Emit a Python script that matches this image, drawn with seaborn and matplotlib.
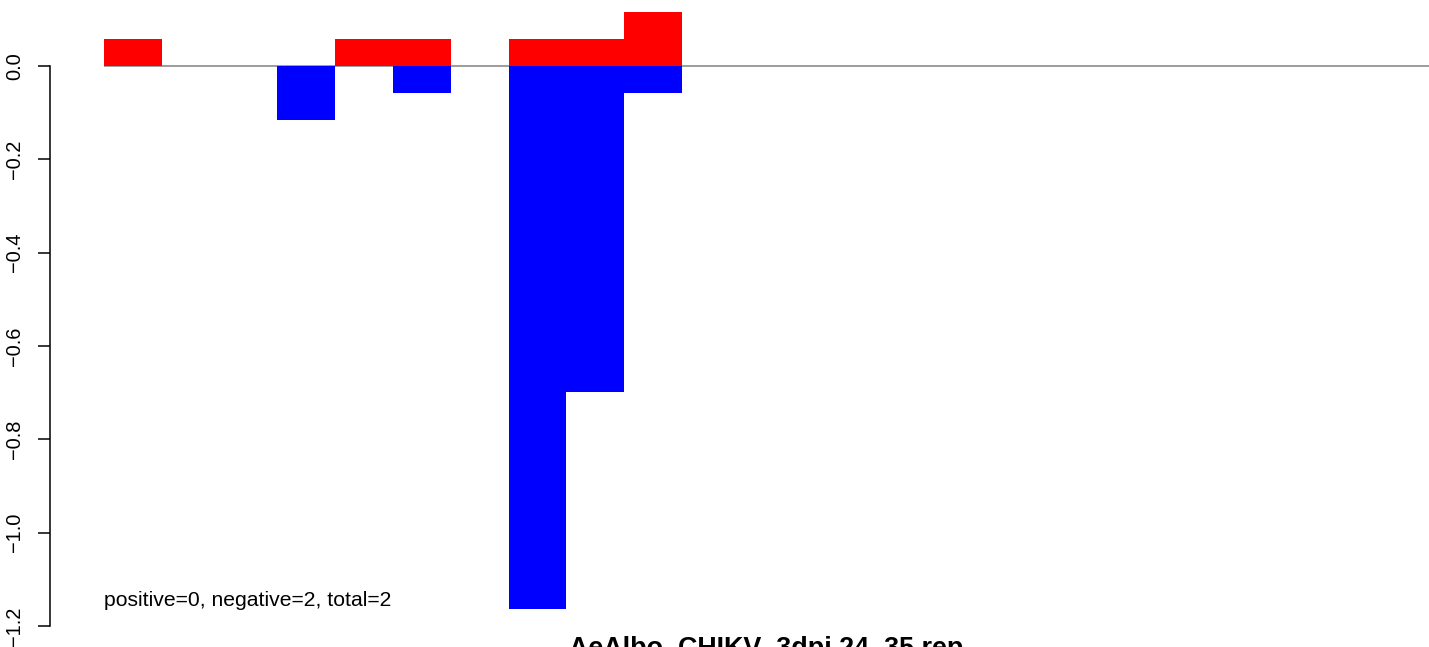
import numpy as np
import pandas as pd
import matplotlib
matplotlib.use("Agg")
import matplotlib.pyplot as plt
import seaborn as sns

# bins (no x labels shown in the figure)
bins = [str(i) for i in range(1, 24)]
# positive-strand (red) and negative-strand (blue) values per bin
red_vals = [0.058, 0, 0, 0, 0.058, 0.058, 0, 0.058, 0.058, 0.116,
            0, 0, 0, 0, 0, 0, 0, 0, 0, 0, 0, 0, 0]
blue_vals = [0, 0, 0, -0.116, 0, -0.058, 0, -1.163, -0.698, -0.058,
             0, 0, 0, 0, 0, 0, 0, 0, 0, 0, 0, 0, 0]
y_ticks = [0.0, -0.2, -0.4, -0.6, -0.8, -1.0, -1.2]
title = "AeAlbo_CHIKV_3dpi 24_35 rep"
note = "positive=0, negative=2, total=2"

df = pd.DataFrame({"bin": bins, "red": red_vals, "blue": blue_vals})

sns.set_style("white")
plt.rcParams["font.family"] = ["Liberation Sans", "DejaVu Sans"]
plt.rcParams["text.color"] = "black"

W, H = 1429, 647
fig = plt.figure(figsize=(W / 100, H / 100), dpi=100)
ax = fig.add_axes([104 / W, 0, (W - 104) / W, 1])

ax.axhline(0, color="#8c8c8c", lw=1.2, zorder=0)
sns.barplot(data=df, x="bin", y="red", color="red", width=1, saturation=1,
            linewidth=0, ax=ax, zorder=2)
sns.barplot(data=df, x="bin", y="blue", color="blue", width=1, saturation=1,
            linewidth=0, ax=ax, zorder=2)

ax.set_xlim(-0.5, -0.5 + (W - 104) / 57.8)
ax.set_ylim(-(H - 66) / 466.7, 66 / 466.7)

for s in ["top", "right", "bottom"]:
    ax.spines[s].set_visible(False)
ax.spines["left"].set_position(("outward", 38.9))
ax.spines["left"].set_bounds(-1.2, 0)
ax.spines["left"].set_color("black")
ax.spines["left"].set_linewidth(1.1)

ax.set_xticks([])
ax.set_yticks(y_ticks)
ax.set_yticklabels([f"{t:.1f}".replace("-", "\u2212") for t in y_ticks],
                   rotation=90, va="center", fontsize=14.4, color="black")
ax.tick_params(axis="y", length=8.6, width=1.1, pad=10.2, left=True,
               colors="black", labelcolor="black")
ax.set_xlabel("")
ax.set_ylabel("")

ax.text(0.0, -1.158, note, transform=ax.get_yaxis_transform(), fontsize=15.2,
        ha="left", va="baseline", color="black")
fig.text(766 / W, -9 / H, title, fontsize=19.4, fontweight="bold",
         ha="center", va="baseline", color="black")

fig.savefig("out.png", dpi=100)
